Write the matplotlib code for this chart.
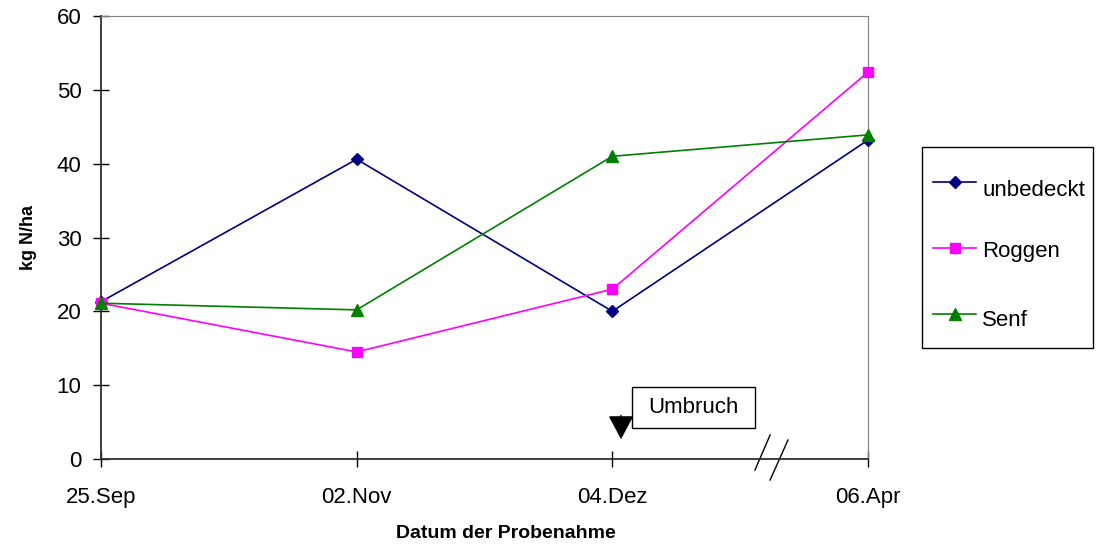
import matplotlib.pyplot as plt
from matplotlib.patches import Rectangle
from matplotlib.lines import Line2D

plt.rcParams['font.family'] = ['Liberation Sans', 'DejaVu Sans']

# Probenahme-Termine und gemessene N-Mengen (kg N/ha)
dates = ['25.Sep', '02.Nov', '04.Dez', '06.Apr']
unbedeckt = [21.3, 40.6, 20.0, 43.2]
roggen = [21.1, 14.5, 23.0, 52.4]
senf = [21.1, 20.2, 41.0, 43.9]

series = [
    ('unbedeckt', unbedeckt, '#000080', 'D', 6),
    ('Roggen', roggen, '#ff00ff', 's', 7.5),
    ('Senf', senf, '#008000', '^', 8.5),
]

W, H = 1097, 544
fig = plt.figure(figsize=(W / 100, H / 100), dpi=100)
ax = fig.add_axes([101 / W, 1 - 459 / H, 767 / W, 443 / H])

x = range(len(dates))
for name, vals, col, mk, ms in series:
    ax.plot(x, vals, color=col, lw=1.2, marker=mk, ms=ms, label=name, clip_on=False, zorder=3)

ax.set_xlim(0, 3)
ax.set_ylim(0, 60)
ax.set_xticks(list(x))
ax.set_xticklabels(dates)
ax.set_yticks(range(0, 61, 10))
ax.tick_params(axis='both', direction='inout', length=12, width=1, labelsize=16)
ax.tick_params(axis='x', pad=14)
ax.tick_params(axis='y', pad=8)

for s in ['top', 'right']:
    ax.spines[s].set_color('#808080')
for s in ['left', 'bottom']:
    ax.spines[s].set_color('#303030')
    ax.spines[s].set_linewidth(1.3)

ax.set_xlabel('Datum der Probenahme', fontsize=14, fontweight='bold')
ax.xaxis.set_label_coords((506 - 101) / 767, (459 - 525) / 443)
ax.set_ylabel('kg N/ha', fontsize=13, fontweight='bold', labelpad=14)

# Umbruch-Markierung
ax.annotate('', xy=(2.034, 2.3), xytext=(2.034, 6.3),
            arrowprops=dict(arrowstyle='-|>,head_length=1.5,head_width=0.8',
                            color='black', lw=1, mutation_scale=10),
            annotation_clip=False)
ax.add_patch(Rectangle((2.077, 4.2), 0.481, 5.56, fill=False, ec='black', lw=1, clip_on=False))
ax.text(2.317, 6.98, 'Umbruch', ha='center', va='center', fontsize=16)

# Achsenbruch //
ax.plot([2.558, 2.617], [-1.49, 3.25], color='black', lw=1, clip_on=False)
ax.plot([2.617, 2.687], [-2.85, 2.57], color='black', lw=1, clip_on=False)

# Legende (manuell, in Pixelkoordinaten der Abbildung)
fig.patches.append(Rectangle((922 / W, 1 - 348 / H), 171 / W, 201 / H, fill=False,
                             ec='black', lw=1, transform=fig.transFigure, figure=fig))
rows = [(182, 190), (248, 252), (314, 320)]
for (name, vals, col, mk, ms), (ly, ty) in zip(series, rows):
    fig.add_artist(Line2D([933 / W, 976 / W], [1 - ly / H] * 2, color=col, lw=1.2,
                          transform=fig.transFigure))
    fig.add_artist(Line2D([954.5 / W], [1 - ly / H], color=col, marker=mk, ms=ms,
                          transform=fig.transFigure))
    fig.text(982 / W, 1 - ty / H, name, ha='left', va='center', fontsize=16)

fig.savefig('out.png', dpi=100)
